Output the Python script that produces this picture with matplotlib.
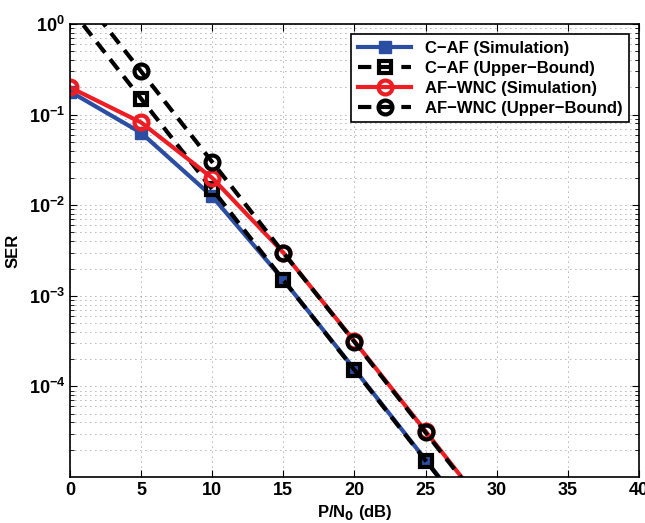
import matplotlib.pyplot as plt
from matplotlib.ticker import LogLocator, NullFormatter

plt.rcParams['font.family'] = ['Liberation Sans', 'DejaVu Sans']
plt.rcParams['font.weight'] = 'bold'
plt.rcParams['mathtext.default'] = 'bf'

snr_db = [0, 5, 10, 15, 20, 25, 30]
caf_sim = [0.18, 0.063, 0.0125, 1.5e-3, 1.55e-4, 1.55e-5, 1.55e-6]
caf_ub = [1.5, 0.15, 0.015, 1.5e-3, 1.52e-4, 1.52e-5, 1.52e-6]
wnc_sim = [0.2, 0.082, 0.02, 3.0e-3, 3.15e-4, 3.2e-5, 3.2e-6]
wnc_ub = [3.0, 0.3, 0.03, 3.0e-3, 3.1e-4, 3.1e-5, 3.1e-6]

blue = "#2B4EA2"
red = "#EE1D24"
dash = (0, (3.2, 2.0))

fig = plt.figure(figsize=(6.45, 5.23), dpi=100)
ax = fig.add_axes([0.1085, 0.088, 0.882, 0.866])

ax.semilogy(snr_db, caf_sim, c=blue, lw=3, marker="s", ms=9,
            mfc=blue, mec=blue, label="C\u2212AF (Simulation)")
ax.semilogy(snr_db, caf_ub, c="k", lw=3, ls=dash, marker="s", ms=9,
            mfc="none", mec="k", mew=3, label="C\u2212AF (Upper\u2212Bound)")
ax.semilogy(snr_db, wnc_sim, c=red, lw=3, marker="o", ms=10,
            mfc="none", mec=red, mew=3, label="AF\u2212WNC (Simulation)")
ax.semilogy(snr_db, wnc_ub, c="k", lw=3, ls=dash, marker="o", ms=10,
            mfc="none", mec="k", mew=3, label="AF\u2212WNC (Upper\u2212Bound)")

ax.set_xlim(0, 40)
ax.set_ylim(1e-5, 1)
ax.set_xticks(range(0, 41, 5))
ax.set_yticks([1e0, 1e-1, 1e-2, 1e-3, 1e-4])
ax.yaxis.set_minor_locator(LogLocator(base=10, subs=range(2, 10)))
ax.yaxis.set_minor_formatter(NullFormatter())

ax.grid(True, which="major", ls=(0, (1, 5)), c="k", lw=0.6, alpha=0.6)
ax.grid(True, which="minor", axis="y", ls=(0, (1, 5)), c="k", lw=0.6, alpha=0.6)

ax.tick_params(axis="both", which="both", direction="in", top=True, right=True,
               labelsize=13)
ax.tick_params(which="major", length=5)
ax.tick_params(which="minor", length=3)
for lab in ax.get_xticklabels() + ax.get_yticklabels():
    lab.set_fontweight("bold")
for sp in ax.spines.values():
    sp.set_linewidth(1.2)

ax.set_xlabel("P/N$_0$ (dB)", fontsize=12, fontweight="bold", labelpad=3)
ax.set_ylabel("SER", fontsize=12, fontweight="bold", labelpad=6)

leg = ax.legend(loc="upper right", fontsize=12, frameon=True, fancybox=False,
                edgecolor="k", framealpha=1, handlelength=3.2,
                borderaxespad=0.6, labelspacing=0.3, borderpad=0.4)
leg.get_frame().set_linewidth(1.2)
for t in leg.get_texts():
    t.set_fontweight("bold")

fig.savefig("out.png", dpi=100)
